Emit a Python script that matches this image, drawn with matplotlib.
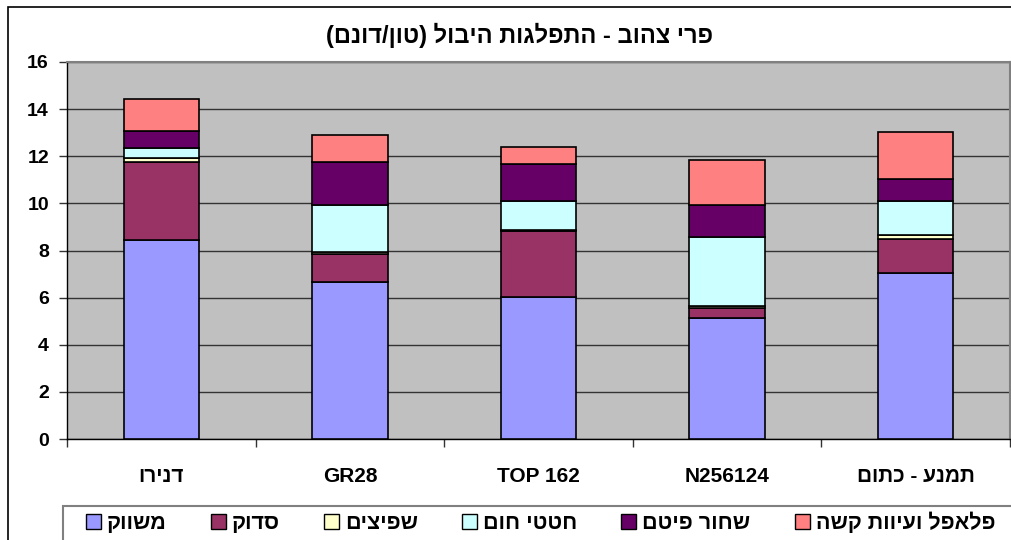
import numpy as np
import matplotlib.pyplot as plt
from matplotlib.patches import Rectangle, Patch

plt.rcParams["font.family"] = ["Liberation Sans", "DejaVu Sans"]
plt.rcParams["font.weight"] = "bold"


def rtl(s):
    # matplotlib has no bidi support: reverse Hebrew text and mirror brackets
    out = s[::-1]
    return out.translate(str.maketrans("()", ")("))


# -------------------------
# Data (ton / dunam)
# -------------------------
categories = ["דנירו", "GR28", "TOP 162", "N256124", "תמנע - כתום"]
series_names = ["משווק", "סדוק", "שפיצים", "חטטי חום", "שחור פיטם", "פלאפל ועיוות קשה"]

marketed = [8.46, 6.67, 6.02, 5.12, 7.03]
cracked = [3.28, 1.18, 2.80, 0.46, 1.47]
pointed = [0.17, 0.10, 0.05, 0.08, 0.14]
brown_spots = [0.42, 1.99, 1.24, 2.91, 1.47]
black_tip = [0.75, 1.80, 1.56, 1.36, 0.93]
puffy = [1.36, 1.16, 0.73, 1.91, 1.98]

colors = ["#9999FF", "#993366", "#FFFFCC", "#CCFFFF", "#660066", "#FF8080"]
title = "פרי צהוב - התפלגות היבול (טון/דונם)"

# -------------------------
# Plot
# -------------------------
fig = plt.figure(figsize=(10.12, 5.4), dpi=100)
ax = fig.add_axes([67 / 1012, 1 - 439 / 540, 943 / 1012, 377 / 540])
ax.set_facecolor("#C0C0C0")

x = np.arange(len(categories))
bottom = np.zeros(len(categories))
all_series = [marketed, cracked, pointed, brown_spots, black_tip, puffy]
for vals, col in zip(all_series, colors):
    ax.bar(x, vals, width=0.40, bottom=bottom, color=col,
           edgecolor="black", linewidth=1.2, zorder=3)
    bottom += np.array(vals)

ax.set_xlim(-0.5, 4.5)
ax.set_ylim(0, 16)
ax.set_yticks(np.arange(0, 17, 2))
ax.yaxis.grid(True, color="#333333", linewidth=1, zorder=0)
ax.set_axisbelow(True)

# ticks between categories, labels at centres
ax.set_xticks(np.arange(-0.5, 5, 1))
ax.set_xticklabels([])
ax.set_xticks(x, minor=True)
ax.set_xticklabels([rtl(c) if not c[0].isascii() else c for c in categories],
                   minor=True, fontsize=15, fontweight="bold")
ax.tick_params(axis="x", which="minor", length=0, pad=20)
ax.tick_params(axis="x", which="major", length=6, width=1, color="#333333")
ax.tick_params(axis="y", length=6, width=1, color="#333333", pad=7, labelsize=14)
for lab in ax.get_yticklabels():
    lab.set_fontweight("bold")

for side in ["top", "right"]:
    ax.spines[side].set_color("#808080")
    ax.spines[side].set_linewidth(1.5)
for side in ["left", "bottom"]:
    ax.spines[side].set_color("black")
    ax.spines[side].set_linewidth(1)

fig.text(520 / 1012, 1 - 35 / 540, rtl(title), ha="center", va="center",
         fontsize=17, fontweight="bold")

# outer chart border
fig.patches.append(Rectangle((8 / 1012, -0.1), 1.1, 1 - 7 / 540 + 0.1,
                             transform=fig.transFigure, fill=False,
                             edgecolor="black", linewidth=1.2))
# legend border
fig.patches.append(Rectangle((63 / 1012, -0.1), 1.1, 1 - 506 / 540 + 0.1,
                             transform=fig.transFigure, fill=False,
                             edgecolor="#808080", linewidth=1.5))

handles = [Patch(facecolor=c, edgecolor="black", linewidth=1) for c in colors]
leg = fig.legend(handles, [rtl(s) for s in series_names], ncol=6,
                 loc="center left", bbox_to_anchor=(77 / 1012, 1 - 523 / 540),
                 frameon=False, handlelength=0.7, handleheight=0.7,
                 handletextpad=0.28, columnspacing=2.05, borderaxespad=0,
                 prop={"weight": "bold", "size": 15.5})

fig.savefig("out.png", dpi=100)
